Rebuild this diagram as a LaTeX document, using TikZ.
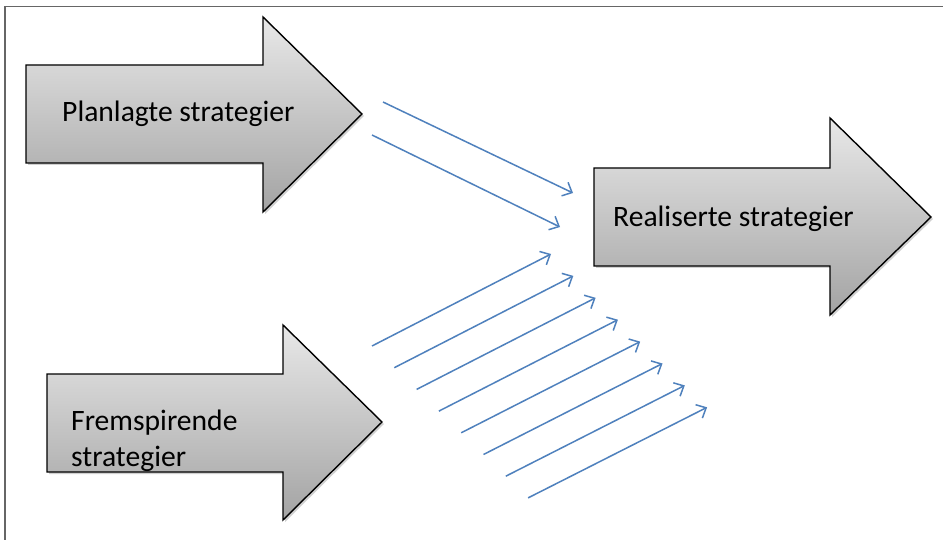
\documentclass[tikz,border=0pt]{standalone}
\usepackage{fontspec}
\setmainfont{Carlito}
\usetikzlibrary{arrows.meta,shadows}
\definecolor{flowblue}{HTML}{4F81BD}
\begin{document}
\begin{tikzpicture}[x=1pt,y=-1pt,
  bigarrow/.style={draw=black, line width=1.4pt, line join=miter,
    top color=black!9, bottom color=black!36,
    drop shadow={shadow xshift=2pt, shadow yshift=-2pt, opacity=0.3, fill=black!60}},
  lbl/.style={font=\fontsize{29.6}{34}\selectfont, inner sep=0pt, anchor=base west, text=black},
  flow/.style={draw=flowblue, line width=1.5pt, -{Straight Barb[length=8pt,width=15pt,line width=1.5pt]}},
  frame/.style={draw=black!60, line width=1.6pt}]
\useasboundingbox (0,0) rectangle (943,540);
\fill[white] (0,0) rectangle (943,540);
% frame
\coordinate (fa) at (5,540);
\coordinate (fb) at (5,6.5);
\coordinate (fc) at (943,6.5);
\draw[frame] (fa) -- (fb) -- (fc);
% big arrows
\path[bigarrow] (26,65) -- (263,65) -- (263,17) -- (362,114) -- (263,212) -- (263,163) -- (26,163) -- cycle;
\path[bigarrow] (594,168) -- (830,168) -- (830,118) -- (931,217) -- (830,315) -- (830,266) -- (594,266) -- cycle;
\path[bigarrow] (47,374) -- (283,374) -- (283,325) -- (382,422) -- (283,520) -- (283,472) -- (47,472) -- cycle;
% labels
\node[lbl] (plan) at (62,122) {Planlagte strategier};
\node[lbl] (real) at (613,227) {Realiserte strategier};
\node[lbl] (frem1) at (71,430) {Fremspirende};
\node[lbl] (frem2) at (71,466) {strategier};
% blue flow arrows (upper)
\coordinate (a1) at (383,102); \coordinate (b1) at (573,193);
\coordinate (a2) at (372,135); \coordinate (b2) at (560,227);
\draw[flow] (a1) -- (b1);
\draw[flow] (a2) -- (b2);
% blue flow arrows (lower)
\foreach \i in {0,...,7} {
  \coordinate (s\i) at ({372+22.3*\i},{346+21.7*\i});
  \coordinate (e\i) at ({551+22.3*\i},{254+21.9*\i});
  \draw[flow] (s\i) -- (e\i);
}
\end{tikzpicture}
\end{document}
